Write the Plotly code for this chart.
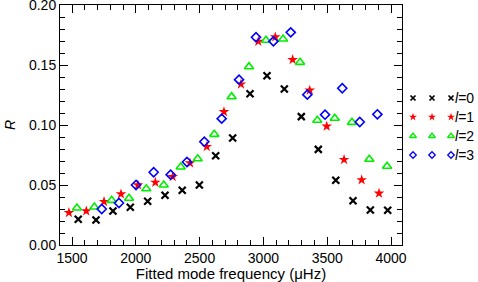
import plotly.graph_objects as go

# ---- data ----
l0_freq = [1549, 1688, 1821, 1957, 2093, 2229, 2364, 2498, 2626, 2759, 2895, 3028, 3164, 3297, 3430, 3567, 3702, 3838, 3974]
l0_R    = [0.0214, 0.0208, 0.0283, 0.0314, 0.0364, 0.0414, 0.0456, 0.0500, 0.0744, 0.0892, 0.1260, 0.1410, 0.1300, 0.1070, 0.0797, 0.0539, 0.0369, 0.0292, 0.0289]

l1_freq = [1476, 1612, 1751, 1884, 2017, 2153, 2289, 2425, 2556, 2691, 2824, 2960, 3093, 3229, 3363, 3496, 3632, 3770, 3906]
l1_R    = [0.0269, 0.0283, 0.0361, 0.0425, 0.0500, 0.0522, 0.0569, 0.0683, 0.0819, 0.1110, 0.1340, 0.1697, 0.1733, 0.1544, 0.1289, 0.0989, 0.0711, 0.0542, 0.0431]

l2_freq = [1539, 1675, 1811, 1947, 2082, 2219, 2352, 2485, 2615, 2751, 2887, 3020, 3154, 3287, 3422, 3559, 3694, 3830, 3969]
l2_R    = [0.0308, 0.0317, 0.0372, 0.0389, 0.0469, 0.0500, 0.0650, 0.0719, 0.0922, 0.1236, 0.1486, 0.1706, 0.1717, 0.1522, 0.1039, 0.1056, 0.1022, 0.0714, 0.0656]

l3_freq = [1733, 1868, 2002, 2140, 2273, 2401, 2537, 2673, 2809, 2942, 3078, 3214, 3344, 3483, 3618, 3755, 3893]
l3_R    = [0.0300, 0.0350, 0.0500, 0.0606, 0.0586, 0.0692, 0.0861, 0.1053, 0.1378, 0.1731, 0.1697, 0.1772, 0.1253, 0.1086, 0.1306, 0.1025, 0.1089]

series_labels = ["<i>l</i>=0", "<i>l</i>=1", "<i>l</i>=2", "<i>l</i>=3"]
x_ticks = [1500, 2000, 2500, 3000, 3500, 4000]
y_ticks = [0.00, 0.05, 0.10, 0.15, 0.20]
y_ticktext = ["0.00", "0.05", "0.10", "0.15", "0.20"]

styles = [
    dict(symbol="x-thin-open", color="#000000", size=7, lw=2.2),
    dict(symbol="star", color="#ff0000", size=8, lw=0),
    dict(symbol="triangle-up-open", color="#00ee00", size=8, lw=1.6),
    dict(symbol="diamond-open", color="#0000ff", size=7, lw=1.6),
]

FONT = "Liberation Sans, Arial, Helvetica, sans-serif"

fig = go.Figure()
for (fx, fy), st in zip([(l0_freq, l0_R), (l1_freq, l1_R), (l2_freq, l2_R), (l3_freq, l3_R)], styles):
    fig.add_trace(go.Scatter(
        x=fx, y=fy, mode="markers", showlegend=False, cliponaxis=False,
        marker=dict(symbol=st["symbol"], size=st["size"], color=st["color"],
                    line=dict(color=st["color"], width=st["lw"])),
    ))

# custom legend (three symbols per row) on a helper axis
leg_x = [0, 1, 2]
for i, (st, lab) in enumerate(zip(styles, series_labels)):
    fig.add_trace(go.Scatter(
        x=leg_x, y=[-i] * 3, mode="markers", xaxis="x2", yaxis="y2", showlegend=False,
        cliponaxis=False,
        marker=dict(symbol=st["symbol"], size=st["size"] - 2, color=st["color"],
                    line=dict(color=st["color"], width=st["lw"] * 0.8)),
    ))
    fig.add_annotation(x=2, y=-i, xref="x2", yref="y2", text=lab, showarrow=False,
                       xanchor="left", yanchor="middle", xshift=2,
                       font=dict(family=FONT, size=14, color="black"))

# y-axis title "R" (rotated, italic)
fig.add_annotation(x=(10 - 60) / 418, y=0.5, xref="paper", yref="paper", text="<i>R</i>",
                   showarrow=False, textangle=-90, xanchor="center", yanchor="middle",
                   font=dict(family=FONT, size=14, color="black"))

axis_common = dict(
    showline=True, linecolor="black", linewidth=1, mirror="allticks",
    ticks="inside", ticklen=8, tickwidth=1, tickcolor="black",
    showgrid=False, zeroline=False, automargin=False, ticklabeloverflow="allow",
    tickfont=dict(family=FONT, size=14, color="black"),
)

# plot area: x 60..402, y 5..245 px
fig.update_layout(
    width=478, height=282,
    margin=dict(l=60, r=0, t=5, b=37),
    paper_bgcolor="white", plot_bgcolor="white",
    xaxis=dict(domain=[0, 342 / 418], range=[1406, 4086], tickvals=x_ticks,
               minor=dict(dtick=100, tick0=1500, ticks="inside", ticklen=5, tickcolor="black", showgrid=False),
               title=dict(text="Fitted mode frequency (\u03bcHz)", font=dict(family=FONT, size=15, color="black"), standoff=0),
               **axis_common),
    yaxis=dict(range=[0, 0.2], tickvals=y_ticks, ticktext=y_ticktext,
               minor=dict(dtick=0.01, tick0=0, ticks="inside", ticklen=5, tickcolor="black", showgrid=False),
               **axis_common),
    xaxis2=dict(domain=[(413 - 60) / 418, (451 - 60) / 418], range=[0, 2], visible=False, anchor="y2"),
    yaxis2=dict(domain=[(245 - 155) / 240, (245 - 98) / 240], range=[-3, 0], visible=False, anchor="x2"),
)

fig.write_html("out.html", config={"displayModeBar": False},
               post_script="document.body.style.margin='0';document.body.style.padding='0';")
